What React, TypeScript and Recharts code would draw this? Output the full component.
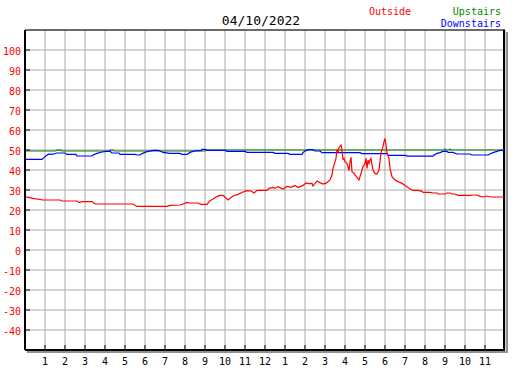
import React from "react";
import { LineChart, Line, XAxis, YAxis, CartesianGrid, ReferenceArea } from "recharts";

const title = "04/10/2022";
const seriesNames = ["Outside", "Upstairs", "Downstairs"];
const xTicks = [1, 2, 3, 4, 5, 6, 7, 8, 9, 10, 11, 12, 13, 14, 15, 16, 17, 18, 19, 20, 21, 22, 23];
const yTicks = [-40, -30, -20, -10, 0, 10, 20, 30, 40, 50, 60, 70, 80, 90, 100];

const outsideHours = [
  0, 0.4, 0.9, 1.75, 1.85, 2.6, 2.7, 2.85, 3.35, 3.5, 5.4, 5.6, 7.1, 7.25, 7.75, 7.9, 8.1, 8.25, 8.65, 8.8,
  9.1, 9.25, 9.4, 9.6, 9.75, 9.9, 10.15, 10.4, 10.65, 10.9, 11.1, 11.3, 11.45, 11.6, 12.1, 12.2, 12.4, 12.5,
  12.65, 12.9, 13.1, 13.3, 13.5, 13.65, 13.75, 13.9, 14.05, 14.2, 14.35, 14.4, 14.6, 14.75, 14.9, 15.1,
  15.25, 15.35, 15.4, 15.55, 15.6, 15.65, 15.7, 15.8, 15.85, 15.9, 15.95, 16.0, 16.1, 16.2, 16.25, 16.3,
  16.35, 16.45, 16.6, 16.7, 16.75, 16.85, 16.9, 17.0, 17.05, 17.1, 17.15, 17.2, 17.25, 17.3, 17.35, 17.4,
  17.5, 17.6, 17.7, 17.75, 17.8, 17.9, 17.95, 18.0, 18.05, 18.1, 18.2, 18.25, 18.35, 18.5, 18.65, 18.85,
  19.0, 19.15, 19.25, 19.4, 19.65, 19.85, 19.9, 20.25, 20.4, 20.6, 20.65, 21.0, 21.1, 21.25, 21.35, 21.5,
  21.65, 22.25, 22.4, 22.6, 22.75, 22.9, 23.1, 23.25, 23.95,
];
const outsideTemps = [
  26.7, 25.8, 25, 25, 24.5, 24.5, 23.7, 24.2, 24.2, 23, 23, 21.8, 21.8, 22.3, 22.5, 23, 23.8, 23.5, 23.5, 22.8,
  22.8, 24.7, 25.5, 26.7, 27.3, 27.3, 25, 27, 27.8, 29, 29.7, 29.5, 28.5, 29.8, 29.8, 30.8, 31.3, 30.8,
  31.7, 30.5, 31.8, 31.3, 32.3, 31.2, 31.7, 32.3, 33.5, 33.2, 33.3, 32, 34.5, 33.7, 33, 33.7,
  35, 37.5, 40.8, 45.8, 50.3, 48.7, 51.3, 52.5, 50, 45.3, 45.8, 44.2, 43.3, 39.7, 44.2, 46.3,
  39.2, 38.3, 36.3, 35, 36.7, 40, 41.7, 43.3, 45.8, 40.8, 45, 43.3, 45, 45.8, 42.5, 40,
  38.3, 38, 40, 44.2, 48.7, 51.7, 54.2, 55.8, 52.5, 48.7, 45.8, 40.8, 36.7, 35, 34.2, 33.3,
  32.3, 31.3, 30.5, 29.8, 29.8, 29.3, 28.8, 28.8, 28.5, 28.5, 28, 28, 28.5, 28.5, 28, 28,
  27.3, 27.3, 27.5, 27.5, 26.8, 26.5, 27, 26.5, 26.5,
];

const upstairsHours = [0, 1.5, 1.6, 1.8, 1.85, 4.2, 4.25, 4.4, 4.45, 9.0, 9.1, 20.95, 21.0, 21.05, 21.2, 21.25, 21.3, 23.95];
const upstairsTemps = [49.5, 49.5, 49.9, 49.9, 49.5, 49.5, 49.9, 49.9, 49.5, 49.5, 50, 50, 50.5, 50, 50, 50.5, 50, 50];

const downstairsHours = [
  0, 0.85, 1.0, 1.15, 1.4, 1.6, 2.0, 2.1, 2.55, 2.6, 3.35, 3.4, 3.6, 3.85, 4.05, 4.25, 4.35, 4.7, 4.75, 5.5,
  5.6, 5.75, 5.85, 6.1, 6.4, 6.65, 6.75, 6.9, 7.25, 7.75, 7.85, 8.1, 8.25, 8.4, 8.6, 8.8, 8.85, 9.0, 9.1,
  10.0, 10.1, 11.0, 11.1, 12.4, 12.5, 13.15, 13.25, 13.85, 13.9, 14.05, 14.15, 14.4, 14.5, 14.75, 14.85,
  16.75, 16.85, 18.1, 18.15, 19.05, 19.1, 20.4, 20.45, 20.6, 20.75, 20.9, 21.1, 21.15, 21.4, 21.6, 22.25,
  22.35, 23.15, 23.25, 23.4, 23.6, 23.75, 23.95,
];
const downstairsTemps = [
  45.3, 45.3, 46.7, 47.8, 47.9, 48.5, 48.5, 47.8, 47.8, 47, 47, 47.5, 48.3, 49, 49.3, 49.3, 48.5, 48.5, 47.8, 47.8,
  47.5, 47.5, 48.2, 49.2, 49.8, 49.8, 49.5, 48.8, 48.3, 48.3, 47.8, 47.8, 48.8, 49.3, 49.7, 49.7, 50.3, 50.3, 49.8,
  49.8, 49.3, 49.3, 48.8, 48.8, 48.3, 48.3, 47.8, 47.8, 48.8, 49.7, 50.2, 50.2, 49.5, 49.5, 48.7,
  48.7, 48.2, 48.2, 47.3, 47.3, 46.9, 46.9, 47.5, 48.3, 48.7, 49.3, 49.3, 48.8, 48.8, 48, 48,
  47.5, 47.5, 48, 48.7, 49.3, 49.8, 49.8,
];

const toRows = (hours: number[], temps: number[]) => hours.map((t, i) => ({ t, v: temps[i] }));
const outsideData = toRows(outsideHours, outsideTemps);
const upstairsData = toRows(upstairsHours, upstairsTemps);
const downstairsData = toRows(downstairsHours, downstairsTemps);

const FONT = "'DejaVu Sans Mono', monospace";

const hourLabel = (h: number) => String(h % 12 === 0 ? 12 : h % 12);

const XTick = (props: any) => {
  const { x, y, payload } = props;
  return (
    <g>
      <line x1={x} x2={x} y1={y - 5} y2={y} stroke="#000" strokeWidth={1} />
      <text x={x} y={y + 15} textAnchor="middle" fontFamily={FONT} fontSize={10} fill="#000">
        {hourLabel(payload.value)}
      </text>
    </g>
  );
};

const YTick = (props: any) => {
  const { x, y, payload } = props;
  return (
    <g>
      <line x1={x} x2={x + 5} y1={y} y2={y} stroke="#000" strokeWidth={1} />
      <text x={x - 4} y={y + 5} textAnchor="end" fontFamily={FONT} fontSize={10} fill="#ff0000">
        {payload.value}
      </text>
    </g>
  );
};

const Frame = (p: any) => {
  const { x, y, width, height } = p;
  return (
    <g>
      <polyline
        points={`${x + width + 2},${y + 2} ${x + width + 2},${y + height + 2} ${x + 2},${y + height + 2}`}
        stroke="#909090"
        strokeWidth={2}
        fill="none"
      />
      <line x1={x} x2={x + width} y1={y} y2={y} stroke="#000" strokeWidth={1} />
      <line x1={x + width - 1} x2={x + width - 1} y1={y} y2={y + height} stroke="#000" strokeWidth={2} />
    </g>
  );
};

export default function App() {
  return (
    <div style={{ position: "absolute", left: 0, top: 0, width: 527, height: 370, background: "#fff" }}>
      <LineChart width={527} height={370} margin={{ top: 30, right: 22, bottom: 0, left: 0 }}>
        <CartesianGrid stroke="#ababab" strokeWidth={1} />
        <XAxis
          type="number"
          dataKey="t"
          domain={[0, 24]}
          ticks={xTicks}
          interval={0}
          allowDataOverflow
          height={20}
          tickSize={0}
          tickMargin={0}
          tickLine={false}
          axisLine={{ stroke: "#000", strokeWidth: 2 }}
          tick={<XTick />}
        />
        <YAxis
          type="number"
          domain={[-50, 110]}
          ticks={yTicks}
          interval={0}
          allowDataOverflow
          width={25}
          tickSize={0}
          tickMargin={0}
          tickLine={false}
          axisLine={{ stroke: "#000", strokeWidth: 2 }}
          tick={<YTick />}
        />
        <ReferenceArea x1={0} x2={24} y1={-50} y2={110} shape={<Frame />} />
        <Line data={upstairsData} dataKey="v" type="linear" stroke="#008800" strokeWidth={1.2} dot={false} isAnimationActive={false} name={seriesNames[1]} />
        <Line data={downstairsData} dataKey="v" type="linear" stroke="#0000ff" strokeWidth={1.2} dot={false} isAnimationActive={false} name={seriesNames[2]} />
        <Line data={outsideData} dataKey="v" type="linear" stroke="#ff0000" strokeWidth={1.2} dot={false} isAnimationActive={false} name={seriesNames[0]} />
      </LineChart>
      <svg width={527} height={370} style={{ position: "absolute", left: 0, top: 0, pointerEvents: "none" }}>
        <text x={261} y={25} textAnchor="middle" fontFamily={FONT} fontSize={13} fill="#000">{title}</text>
        <text x={369} y={15} textAnchor="start" fontFamily={FONT} fontSize={10} fill="#ff0000">{seriesNames[0]}</text>
        <text x={501} y={15} textAnchor="end" fontFamily={FONT} fontSize={10} fill="#008800">{seriesNames[1]}</text>
        <text x={501} y={27} textAnchor="end" fontFamily={FONT} fontSize={10} fill="#0000ff">{seriesNames[2]}</text>
      </svg>
    </div>
  );
}
